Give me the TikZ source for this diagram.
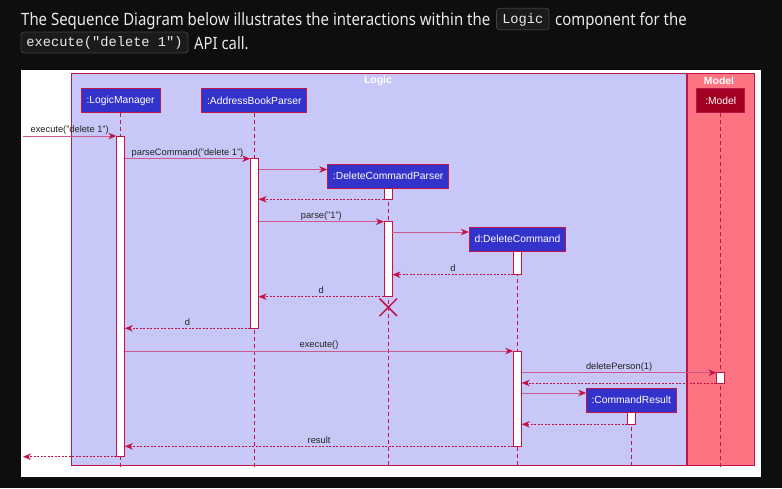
\documentclass[tikz,border=0pt]{standalone}
\usepackage{fontspec}
\usepackage{graphicx}
\setmainfont{Liberation Sans}
\newfontfamily\headfont{Noto Sans}
\newfontfamily\codefont{Liberation Mono}
\usetikzlibrary{arrows.meta,shapes.misc}
\definecolor{bgdark}{RGB}{13,14,14}
\definecolor{codebg}{RGB}{26,27,28}
\definecolor{codeline}{RGB}{62,64,66}
\definecolor{headtext}{RGB}{232,234,236}
\definecolor{crim}{RGB}{192,20,72}
\definecolor{msgline}{RGB}{204,88,142}
\definecolor{logicfill}{RGB}{200,200,248}
\definecolor{modelfill}{RGB}{252,115,130}
\definecolor{partblue}{RGB}{51,51,204}
\definecolor{modeldark}{RGB}{162,0,34}
\definecolor{lbltext}{RGB}{34,34,34}
\tikzset{
  headtxt/.style={anchor=base west, inner sep=0, text=headtext, font=\headfont\fontsize{17}{20}\selectfont},
  codebox/.style={fill=codebg, draw=codeline, line width=0.8pt, rounded corners=3pt},
  codetxt/.style={anchor=base, inner sep=0, text=headtext, font=\codefont\fontsize{13.7}{16}\selectfont},
  frameline/.style={draw=crim, line width=0.8pt},
  grouptitle/.style={text=white, inner sep=0, font=\bfseries\fontsize{10.4}{12}\selectfont},
  part/.style={draw=crim, fill=partblue, text=white, inner sep=0, minimum height=24.5pt, line width=0.9pt, font=\fontsize{10.3}{12}\selectfont},
  act/.style={draw=crim, fill=white, minimum width=7.6pt, inner sep=0, line width=0.9pt},
  life/.style={draw=crim, dash pattern=on 4pt off 3pt, line width=0.8pt},
  msg/.style={draw=msgline, line width=0.9pt, -{Stealth[length=8pt,width=6.5pt,inset=2.5pt,color=crim]}},
  ret/.style={draw=crim, line width=0.7pt, dash pattern=on 2pt off 1.5pt, -{Stealth[length=8pt,width=6.5pt,inset=2.5pt,color=crim]}},
  lbl/.style={midway, anchor=base, yshift=3.2pt, inner sep=0, text=lbltext, font=\fontsize{9.3}{11}\selectfont},
  destroy/.style={draw=crim, cross out, minimum size=16pt, inner sep=0, line width=1.5pt}
}
\begin{document}
\begin{tikzpicture}[x=1pt,y=-1pt]
\useasboundingbox (0,0) rectangle (782,488);
\fill[bgdark] (0,0) rectangle (782,488);
% header
\node[headtxt] (h1) at (21,25) {\resizebox{469pt}{\height}{The Sequence Diagram below illustrates the interactions within the}};
\draw[codebox] (496.5,8.3) rectangle (549,29.7);
\node[codetxt] (c1) at (522.8,23.4) {Logic};
\node[headtxt] (h2) at (555,25) {\resizebox{131.5pt}{\height}{component for the}};
\draw[codebox] (21,32) rectangle (188,53);
\node[codetxt] (c2) at (104.5,46.9) {execute("delete 1")};
\node[headtxt] (h3) at (194,49) {\resizebox{54.5pt}{\height}{API call.}};
% diagram area
\fill[white] (21,70) rectangle (761,477);
\filldraw[fill=logicfill, frameline] (71,73) rectangle (686,465);
\filldraw[fill=modelfill, frameline] (687,73) rectangle (754,465);
\node[grouptitle] (tlogic) at (378,81) {Logic};
\node[grouptitle] (tmodel) at (719,81) {Model};
% participants
\node[part, minimum width=79pt] (lm) at (120.6,100.5) {:LogicManager};
\node[part, minimum width=105pt] (abp) at (254.3,100.5) {:AddressBookParser};
\node[part, minimum width=121pt, minimum height=24pt] (dcp) at (388.2,176) {:DeleteCommandParser};
\node[part, minimum width=96.4pt, minimum height=24pt] (dc) at (517.5,239) {d:DeleteCommand};
\node[part, fill=modeldark, minimum width=48pt] (mdl) at (720.7,100.5) {:Model};
\node[part, minimum width=89.3pt, minimum height=24pt] (cr) at (631.3,400.3) {:CommandResult};
% lifeline ends
\coordinate (lmend) at (120.6,468);
\coordinate (abpend) at (254.3,468);
\coordinate (dcpend) at (388.2,468);
\coordinate (dcend) at (517.5,468);
\coordinate (mdlend) at (720.7,468);
\coordinate (crend) at (631.3,465);
\draw[life] (lm) -- (lmend);
\draw[life] (abp) -- (abpend);
\draw[life] (dcp) -- (dcpend);
\draw[life] (dc) -- (dcend);
\draw[life] (mdl) -- (mdlend);
\draw[life] (cr) -- (crend);
% activations
\node[act, minimum height=320.7pt] (a1) at (120.6,296.35) {};
\node[act, minimum height=169.6pt] (a2) at (254.4,243.5) {};
\node[act, minimum height=11.3pt] (a3) at (388.2,193.65) {};
\node[act, minimum height=75pt] (a4) at (388.2,259.2) {};
\node[act, minimum height=23.7pt] (a5) at (517.5,262.85) {};
\node[act, minimum height=95.3pt] (a6) at (517.5,398.65) {};
\node[act, minimum height=10.3pt] (a7) at (720.7,377.85) {};
\node[act, minimum height=12pt] (a8) at (631.3,418.3) {};
\node[destroy] (x4) at (388.3,307.3) {};
% free ends
\coordinate (in1) at (23,136);
\coordinate (out1) at (23,456.7);
% messages
\draw[msg] (in1) -- (a1.west |- in1) node[lbl] {execute("delete 1")};
\draw[msg] (a1.east |- 0,158.7) -- (a2.west |- 0,158.7) node[lbl] {parseCommand("delete 1")};
\draw[msg] (a2.east |- 0,169.5) -- (dcp.west |- 0,169.5);
\draw[ret] (a3.west |- 0,199.3) -- (a2.east |- 0,199.3);
\draw[msg] (a2.east |- 0,221.7) -- (a4.west |- 0,221.7) node[lbl] {parse("1")};
\draw[msg] (a4.east |- 0,232) -- (dc.west |- 0,232);
\draw[ret] (a5.west |- 0,274.7) -- (a4.east |- 0,274.7) node[lbl] {d};
\draw[ret] (a4.west |- 0,296.7) -- (a2.east |- 0,296.7) node[lbl] {d};
\draw[ret] (a2.west |- 0,328.3) -- (a1.east |- 0,328.3) node[lbl] {d};
\draw[msg] (a1.east |- 0,351) -- (a6.west |- 0,351) node[lbl] {execute()};
\draw[msg] (a6.east |- 0,372.7) -- (a7.west |- 0,372.7) node[lbl] {deletePerson(1)};
\draw[ret] (a7.west |- 0,383) -- (a6.east |- 0,383);
\draw[msg] (a6.east |- 0,393) -- (cr.west |- 0,393);
\draw[ret] (a8.west |- 0,424.3) -- (a6.east |- 0,424.3);
\draw[ret] (a6.west |- 0,446.3) -- (a1.east |- 0,446.3) node[lbl] {result};
\draw[ret] (a1.west |- out1) -- (out1);
\end{tikzpicture}
\end{document}
